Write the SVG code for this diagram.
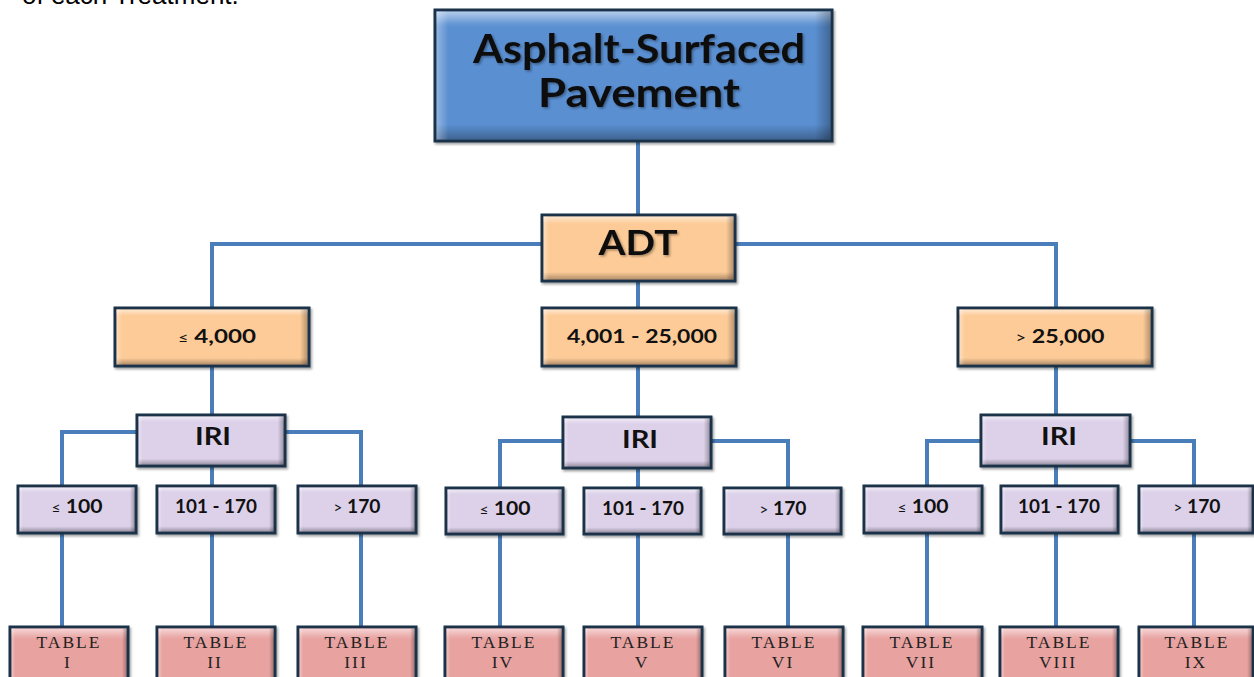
<svg xmlns="http://www.w3.org/2000/svg" width="1254" height="677" viewBox="0 0 1254 677">
<defs>
  <linearGradient id="bevV" x1="0" y1="0" x2="0" y2="1">
    <stop offset="0" stop-color="#ffffff" stop-opacity="0.55"/>
    <stop offset="0.09" stop-color="#ffffff" stop-opacity="0.1"/>
    <stop offset="0.12" stop-color="#ffffff" stop-opacity="0"/>
    <stop offset="0.88" stop-color="#000000" stop-opacity="0"/>
    <stop offset="0.93" stop-color="#000000" stop-opacity="0.12"/>
    <stop offset="1" stop-color="#000000" stop-opacity="0.3"/>
  </linearGradient>
  <linearGradient id="bevH" x1="0" y1="0" x2="1" y2="0">
    <stop offset="0" stop-color="#ffffff" stop-opacity="0.35"/>
    <stop offset="0.03" stop-color="#ffffff" stop-opacity="0"/>
    <stop offset="0.96" stop-color="#000000" stop-opacity="0"/>
    <stop offset="1" stop-color="#000000" stop-opacity="0.28"/>
  </linearGradient>
  <filter id="sh" x="-10%" y="-10%" width="120%" height="130%">
    <feDropShadow dx="1.5" dy="2" stdDeviation="1.2" flood-color="#000" flood-opacity="0.35"/>
  </filter>
  <filter id="tsh" x="-10%" y="-20%" width="120%" height="140%">
    <feDropShadow dx="1.5" dy="1.5" stdDeviation="1" flood-color="#000" flood-opacity="0.35"/>
  </filter>
</defs>
<style>
  .box { stroke: #1d3049; stroke-width: 3; }
  .blue { fill: #5a8fd1; }
  .peach { fill: #fdcb98; }
  .lav { fill: #dcd1e9; }
  .pink { fill: #e8a3a1; }
  .bv { fill: url(#bevV); stroke: none; }
  .bh { fill: url(#bevH); stroke: none; }
  .lbl { font-family: Lato, "Noto Sans", "Liberation Sans", sans-serif; font-weight: 700; fill: #111; text-anchor: middle; }
  .tbl { font-family: "Liberation Serif", "DejaVu Serif", serif; font-size: 17.5px; fill: #222; text-anchor: middle; letter-spacing: 2px; }
  .conn { fill: none; stroke: #4a7ebb; stroke-width: 4; stroke-linejoin: miter; }
</style>
<rect width="1254" height="677" fill="#ffffff"/>
<text x="22" y="4" font-family="Liberation Sans, Arial, sans-serif" font-size="26" fill="#000">of each Treatment.</text>

<g id="connectors">
  <path class="conn" d="M638,141 V215"/>
  <path class="conn" d="M542,244 H212 V308"/>
  <path class="conn" d="M735,244 H1056 V308"/>
  <path class="conn" d="M638,281 V308"/>
  <path class="conn" d="M212,366 V415"/>
  <path class="conn" d="M638,366 V417"/>
  <path class="conn" d="M1056,366 V415"/>
  <path class="conn" d="M137,432 H62 V486"/>
  <path class="conn" d="M285,432 H361 V486"/>
  <path class="conn" d="M212,466 V486"/>
  <path class="conn" d="M62,533 V627"/>
  <path class="conn" d="M212,533 V627"/>
  <path class="conn" d="M361,533 V627"/>
  <path class="conn" d="M563,441 H500 V488"/>
  <path class="conn" d="M711,441 H788 V488"/>
  <path class="conn" d="M638,469 V488"/>
  <path class="conn" d="M500,534 V627"/>
  <path class="conn" d="M638,534 V627"/>
  <path class="conn" d="M788,534 V627"/>
  <path class="conn" d="M981,441 H927 V486"/>
  <path class="conn" d="M1130,441 H1194 V486"/>
  <path class="conn" d="M1056,467 V486"/>
  <path class="conn" d="M927,533 V627"/>
  <path class="conn" d="M1056,533 V627"/>
  <path class="conn" d="M1194,533 V627"/>
</g>

<g id="root">
  <g filter="url(#sh)">
    <rect class="box blue" x="435" y="10" width="397" height="131"/>
    <rect class="bv" x="436.5" y="11.5" width="394" height="128"/>
    <rect class="bh" x="436.5" y="11.5" width="394" height="128"/>
  </g>
  <g filter="url(#tsh)">
    <text class="lbl" x="639" y="63" font-size="41" textLength="332" lengthAdjust="spacingAndGlyphs">Asphalt-Surfaced</text>
    <text class="lbl" x="639" y="107" font-size="41" textLength="202" lengthAdjust="spacingAndGlyphs">Pavement</text>
  </g>
</g>

<g id="adt">
  <g filter="url(#sh)">
    <rect class="box peach" x="542" y="215" width="193" height="66"/>
    <rect class="bv" x="543.5" y="216.5" width="190" height="63"/>
    <rect class="bh" x="543.5" y="216.5" width="190" height="63"/>
  </g>
  <text class="lbl" x="638" y="255" font-size="34" textLength="79" lengthAdjust="spacingAndGlyphs" filter="url(#tsh)">ADT</text>
</g>

<g id="adt-low">
  <g filter="url(#sh)">
    <rect class="box peach" x="115" y="308" width="194" height="58"/>
    <rect class="bv" x="116.5" y="309.5" width="191" height="55"/>
    <rect class="bh" x="116.5" y="309.5" width="191" height="55"/>
  </g>
  <text class="lbl" x="217" y="343" font-size="19" textLength="78" lengthAdjust="spacingAndGlyphs"><tspan font-size="14" font-weight="400">≤</tspan> 4,000</text>
</g>
<g id="adt-mid">
  <g filter="url(#sh)">
    <rect class="box peach" x="542" y="308" width="194" height="58"/>
    <rect class="bv" x="543.5" y="309.5" width="191" height="55"/>
    <rect class="bh" x="543.5" y="309.5" width="191" height="55"/>
  </g>
  <text class="lbl" x="642" y="343" font-size="19" textLength="150" lengthAdjust="spacingAndGlyphs">4,001 - 25,000</text>
</g>
<g id="adt-high">
  <g filter="url(#sh)">
    <rect class="box peach" x="958" y="308" width="194" height="58"/>
    <rect class="bv" x="959.5" y="309.5" width="191" height="55"/>
    <rect class="bh" x="959.5" y="309.5" width="191" height="55"/>
  </g>
  <text class="lbl" x="1060" y="343" font-size="19" textLength="89" lengthAdjust="spacingAndGlyphs"><tspan font-size="15" font-weight="400">&gt;</tspan> 25,000</text>
</g>

<g id="iri-1">
  <g filter="url(#sh)">
    <rect class="box lav" x="137" y="415" width="148" height="51"/>
    <rect class="bv" x="138.5" y="416.5" width="145" height="48"/>
    <rect class="bh" x="138.5" y="416.5" width="145" height="48"/>
  </g>
  <text class="lbl" x="213" y="445" font-size="25" textLength="36" lengthAdjust="spacingAndGlyphs">IRI</text>
</g>
<g id="iri-2">
  <g filter="url(#sh)">
    <rect class="box lav" x="563" y="417" width="148" height="51"/>
    <rect class="bv" x="564.5" y="418.5" width="145" height="48"/>
    <rect class="bh" x="564.5" y="418.5" width="145" height="48"/>
  </g>
  <text class="lbl" x="640" y="448" font-size="25" textLength="36" lengthAdjust="spacingAndGlyphs">IRI</text>
</g>
<g id="iri-3">
  <g filter="url(#sh)">
    <rect class="box lav" x="981" y="415" width="149" height="51"/>
    <rect class="bv" x="982.5" y="416.5" width="146" height="48"/>
    <rect class="bh" x="982.5" y="416.5" width="146" height="48"/>
  </g>
  <text class="lbl" x="1059" y="445" font-size="25" textLength="36" lengthAdjust="spacingAndGlyphs">IRI</text>
</g>

<!-- IRI ranges -->
<g id="r1a"><g filter="url(#sh)"><rect class="box lav" x="18" y="486" width="118" height="47"/><rect class="bv" x="19.5" y="487.5" width="115" height="44"/><rect class="bh" x="19.5" y="487.5" width="115" height="44"/></g>
  <text class="lbl" x="77" y="513" font-size="19" textLength="51" lengthAdjust="spacingAndGlyphs"><tspan font-size="14" font-weight="400">≤</tspan> 100</text></g>
<g id="r1b"><g filter="url(#sh)"><rect class="box lav" x="157" y="486" width="118" height="47"/><rect class="bv" x="158.5" y="487.5" width="115" height="44"/><rect class="bh" x="158.5" y="487.5" width="115" height="44"/></g>
  <text class="lbl" x="216" y="513" font-size="19" textLength="82" lengthAdjust="spacingAndGlyphs">101 - 170</text></g>
<g id="r1c"><g filter="url(#sh)"><rect class="box lav" x="298" y="486" width="118" height="47"/><rect class="bv" x="299.5" y="487.5" width="115" height="44"/><rect class="bh" x="299.5" y="487.5" width="115" height="44"/></g>
  <text class="lbl" x="357" y="513" font-size="19" textLength="47" lengthAdjust="spacingAndGlyphs"><tspan font-size="15" font-weight="400">&gt;</tspan> 170</text></g>

<g id="r2a"><g filter="url(#sh)"><rect class="box lav" x="446" y="488" width="117" height="46"/><rect class="bv" x="447.5" y="489.5" width="114" height="43"/><rect class="bh" x="447.5" y="489.5" width="114" height="43"/></g>
  <text class="lbl" x="505" y="515" font-size="19" textLength="51" lengthAdjust="spacingAndGlyphs"><tspan font-size="14" font-weight="400">≤</tspan> 100</text></g>
<g id="r2b"><g filter="url(#sh)"><rect class="box lav" x="584" y="488" width="117" height="46"/><rect class="bv" x="585.5" y="489.5" width="114" height="43"/><rect class="bh" x="585.5" y="489.5" width="114" height="43"/></g>
  <text class="lbl" x="643" y="515" font-size="19" textLength="82" lengthAdjust="spacingAndGlyphs">101 - 170</text></g>
<g id="r2c"><g filter="url(#sh)"><rect class="box lav" x="724" y="488" width="117" height="46"/><rect class="bv" x="725.5" y="489.5" width="114" height="43"/><rect class="bh" x="725.5" y="489.5" width="114" height="43"/></g>
  <text class="lbl" x="783" y="515" font-size="19" textLength="47" lengthAdjust="spacingAndGlyphs"><tspan font-size="15" font-weight="400">&gt;</tspan> 170</text></g>

<g id="r3a"><g filter="url(#sh)"><rect class="box lav" x="864" y="486" width="118" height="47"/><rect class="bv" x="865.5" y="487.5" width="115" height="44"/><rect class="bh" x="865.5" y="487.5" width="115" height="44"/></g>
  <text class="lbl" x="923" y="513" font-size="19" textLength="51" lengthAdjust="spacingAndGlyphs"><tspan font-size="14" font-weight="400">≤</tspan> 100</text></g>
<g id="r3b"><g filter="url(#sh)"><rect class="box lav" x="1001" y="486" width="117" height="47"/><rect class="bv" x="1002.5" y="487.5" width="114" height="44"/><rect class="bh" x="1002.5" y="487.5" width="114" height="44"/></g>
  <text class="lbl" x="1059" y="513" font-size="19" textLength="82" lengthAdjust="spacingAndGlyphs">101 - 170</text></g>
<g id="r3c"><g filter="url(#sh)"><rect class="box lav" x="1139" y="486" width="114" height="47"/><rect class="bv" x="1140.5" y="487.5" width="111" height="44"/><rect class="bh" x="1140.5" y="487.5" width="111" height="44"/></g>
  <text class="lbl" x="1197" y="513" font-size="19" textLength="47" lengthAdjust="spacingAndGlyphs"><tspan font-size="15" font-weight="400">&gt;</tspan> 170</text></g>

<!-- Tables -->
<g id="t1"><g filter="url(#sh)"><rect class="box pink" x="10" y="627" width="118" height="60"/><rect class="bv" x="11.5" y="628.5" width="115" height="90"/><rect class="bh" x="11.5" y="628.5" width="115" height="57"/></g>
  <text class="tbl" x="69" y="648">TABLE</text><text class="tbl" x="68" y="668">I</text></g>
<g id="t2"><g filter="url(#sh)"><rect class="box pink" x="157" y="627" width="118" height="60"/><rect class="bv" x="158.5" y="628.5" width="115" height="90"/><rect class="bh" x="158.5" y="628.5" width="115" height="57"/></g>
  <text class="tbl" x="216" y="648">TABLE</text><text class="tbl" x="215" y="668">II</text></g>
<g id="t3"><g filter="url(#sh)"><rect class="box pink" x="298" y="627" width="118" height="60"/><rect class="bv" x="299.5" y="628.5" width="115" height="90"/><rect class="bh" x="299.5" y="628.5" width="115" height="57"/></g>
  <text class="tbl" x="357" y="648">TABLE</text><text class="tbl" x="356" y="668">III</text></g>
<g id="t4"><g filter="url(#sh)"><rect class="box pink" x="445" y="627" width="118" height="60"/><rect class="bv" x="446.5" y="628.5" width="115" height="90"/><rect class="bh" x="446.5" y="628.5" width="115" height="57"/></g>
  <text class="tbl" x="504" y="648">TABLE</text><text class="tbl" x="503" y="668">IV</text></g>
<g id="t5"><g filter="url(#sh)"><rect class="box pink" x="584" y="627" width="118" height="60"/><rect class="bv" x="585.5" y="628.5" width="115" height="90"/><rect class="bh" x="585.5" y="628.5" width="115" height="57"/></g>
  <text class="tbl" x="643" y="648">TABLE</text><text class="tbl" x="642" y="668">V</text></g>
<g id="t6"><g filter="url(#sh)"><rect class="box pink" x="725" y="627" width="118" height="60"/><rect class="bv" x="726.5" y="628.5" width="115" height="90"/><rect class="bh" x="726.5" y="628.5" width="115" height="57"/></g>
  <text class="tbl" x="784" y="648">TABLE</text><text class="tbl" x="783" y="668">VI</text></g>
<g id="t7"><g filter="url(#sh)"><rect class="box pink" x="863" y="627" width="119" height="60"/><rect class="bv" x="864.5" y="628.5" width="116" height="90"/><rect class="bh" x="864.5" y="628.5" width="116" height="57"/></g>
  <text class="tbl" x="922" y="648">TABLE</text><text class="tbl" x="921" y="668">VII</text></g>
<g id="t8"><g filter="url(#sh)"><rect class="box pink" x="1000" y="627" width="118" height="60"/><rect class="bv" x="1001.5" y="628.5" width="115" height="90"/><rect class="bh" x="1001.5" y="628.5" width="115" height="57"/></g>
  <text class="tbl" x="1059" y="648">TABLE</text><text class="tbl" x="1058" y="668">VIII</text></g>
<g id="t9"><g filter="url(#sh)"><rect class="box pink" x="1139" y="627" width="114" height="60"/><rect class="bv" x="1140.5" y="628.5" width="111" height="90"/><rect class="bh" x="1140.5" y="628.5" width="111" height="57"/></g>
  <text class="tbl" x="1197" y="648">TABLE</text><text class="tbl" x="1196" y="668">IX</text></g>
</svg>
